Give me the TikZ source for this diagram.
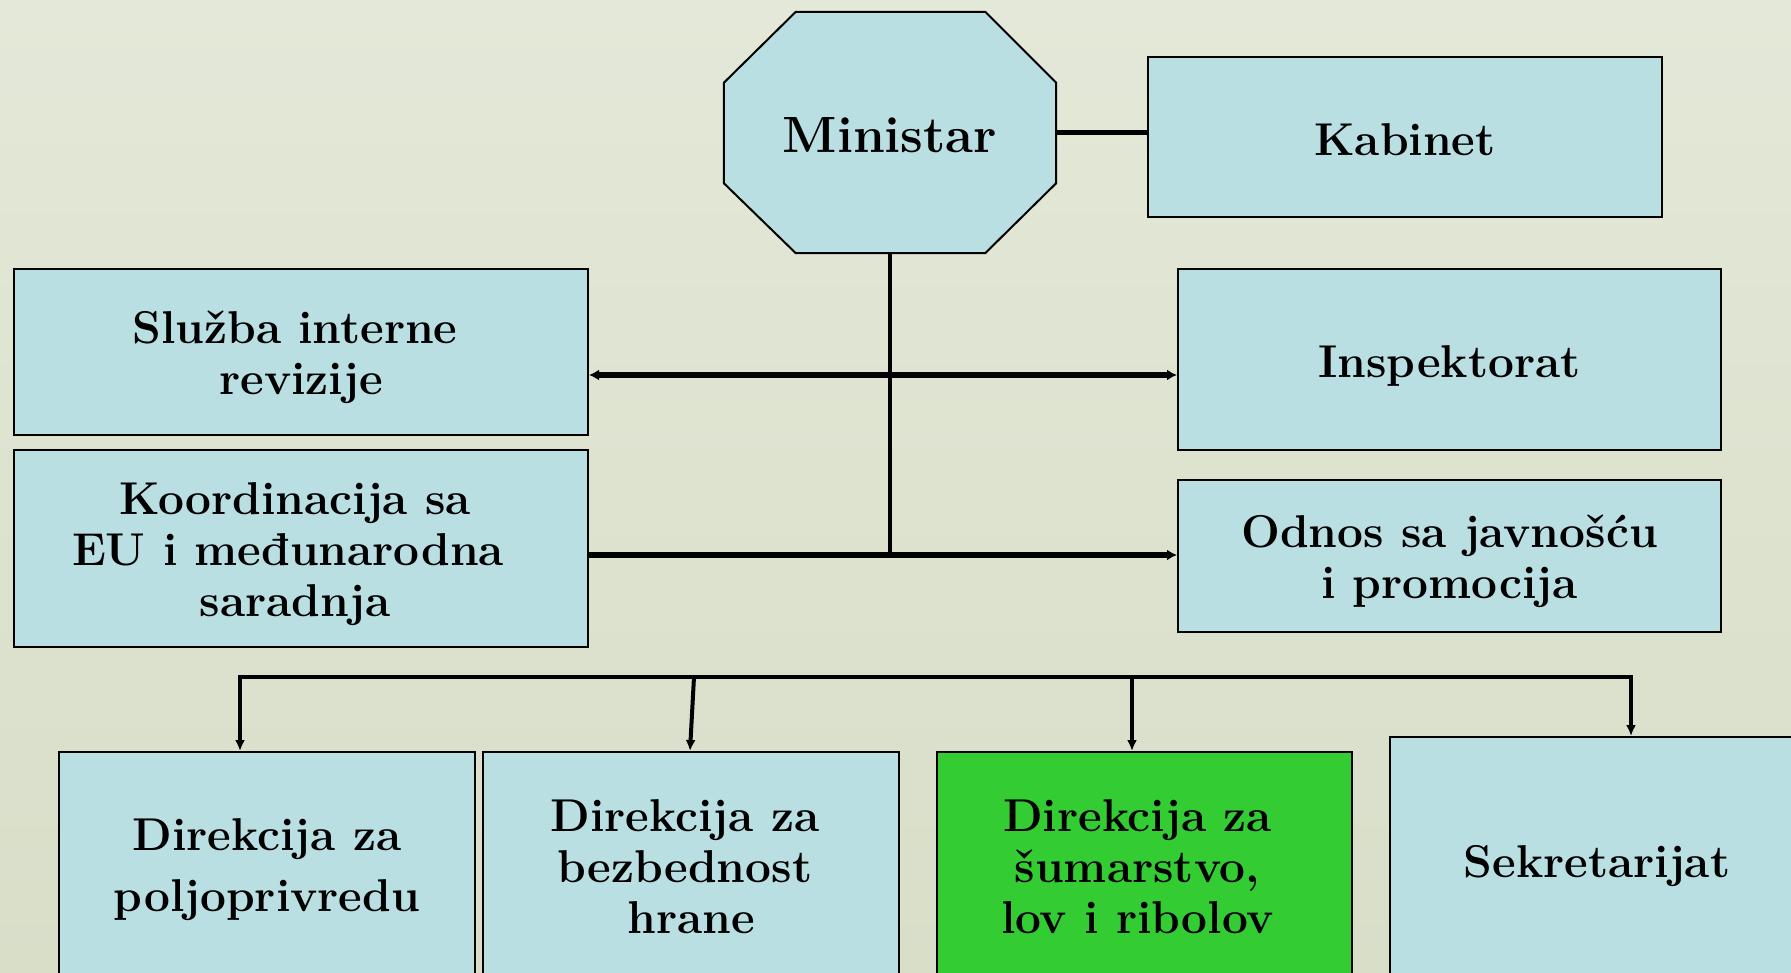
\documentclass[tikz,border=0pt]{standalone}
\usepackage{fontspec}
\usetikzlibrary{arrows.meta,calc,backgrounds}
\pgfdeclarelayer{back}
\pgfsetlayers{back,background,main}
\definecolor{boxblue}{RGB}{185,223,227}
\definecolor{boxgreen}{RGB}{51,204,51}
\definecolor{bgtop}{RGB}{228,232,216}
\definecolor{bgmid}{RGB}{208,216,188}
\definecolor{bgbot}{RGB}{216,222,200}
\newcommand\boxfont{\fontsize{46}{51}\selectfont\bfseries}
\newcommand\minfont{\fontsize{51}{58}\selectfont\bfseries}
\newcommand\sd[1]{\rule{0pt}{#1pt}}
\newcommand\tr[1]{\hbox to #1pt{}}
\tikzset{
  orgbox/.style={draw=black, line width=2pt, fill=boxblue, align=center, inner sep=0pt, font=\boxfont},
  conn/.style={line width=4.5pt},
  trunkline/.style={line width=3.5pt},
  dropline/.style={line width=4pt, -{Latex[length=11pt,width=10pt]}},
  thickarrow/.style={line width=5.5pt},
  octo/.style={draw=black, line width=2pt, fill=boxblue, line join=miter},
}
\begin{document}
\begin{tikzpicture}[x=1pt,y=-1pt]
\useasboundingbox (0,0) rectangle (1791,973);
\clip (0,0) rectangle (1791,973);
\begin{pgfonlayer}{back}
\shade[top color=bgtop, middle color=bgmid, bottom color=bgbot] (0,0) rectangle (1791,973);
\end{pgfonlayer}

% nodes
\node[inner sep=0pt, minimum width=332pt, minimum height=241pt, font=\minfont] (Min) at (890,132.5) {\sd{40}Ministar};
\begin{pgfonlayer}{background}
\draw[octo] ($(Min.north west)+(72,0)$) -- ($(Min.north east)+(-71,0)$) -- ($(Min.north east)+(0,71)$)
  -- ($(Min.south east)+(0,-70)$) -- ($(Min.south east)+(-71,0)$) -- ($(Min.south west)+(72,0)$)
  -- ($(Min.south west)+(0,-70)$) -- ($(Min.north west)+(0,71)$) -- cycle;
\end{pgfonlayer}
\node[orgbox, minimum width=514pt, minimum height=160pt] (Kab) at (1405,137) {\sd{36.5}Kabinet};
\node[orgbox, minimum width=574pt, minimum height=166pt] (Sluz) at (301,352) {\sd{44}Služba interne\tr{12}\\revizije};
\node[orgbox, minimum width=543pt, minimum height=181pt] (Insp) at (1449.5,359.5) {\sd{44}Inspektorat};
\node[orgbox, minimum width=574pt, minimum height=197pt] (Koord) at (301,548.5) {\sd{44}Koordinacija sa\tr{12}\\EU i međunarodna\tr{26}\\saradnja\tr{12}};
\node[orgbox, minimum width=543pt, minimum height=152pt] (Odn) at (1449.5,556) {\sd{44}Odnos sa javnošću\\i promocija};
\node[orgbox, minimum width=416pt, minimum height=224pt] (D1) at (267,864) {\sd{44}Direkcija za\\[10pt]poljoprivredu};
\node[orgbox, minimum width=416pt, minimum height=224pt] (D2) at (691,864) {\sd{37}Direkcija za\tr{12}\\bezbednost\tr{12}\\hrane};
\node[orgbox, fill=boxgreen, minimum width=415pt, minimum height=224pt] (D3) at (1144.5,864) {\sd{37}Direkcija za\tr{14}\\šumarstvo,\tr{14}\\lov i ribolov\tr{14}};
\node[orgbox, minimum width=414pt, minimum height=246pt] (D4) at (1597,860) {\sd{44}Sekretarijat};

% connectors
\coordinate (j1) at (891,375);
\coordinate (j2) at (891,555);
\draw[conn] (Min.east) -- (Min.east -| Kab.west);
\draw[trunkline] (Min.south) -- (j2 -| Min.south);
\draw[thickarrow, {Latex[length=10pt,width=11pt]}-{Latex[length=10pt,width=11pt]}] (j1 -| Sluz.east) -- (j1 -| Insp.west);
\draw[thickarrow, -{Latex[length=10pt,width=11pt]}] (j2 -| Koord.east) -- (j2 -| Odn.west);

\coordinate (h1) at (240,677);
\coordinate (h2) at (694,677);
\coordinate (h3) at (1132,677);
\coordinate (h4) at (1631,677);
\draw[conn, line cap=rect] (h1) -- (h4);
\draw[dropline] (h1) -- (h1 |- D1.north);
\draw[dropline] (h2) -- ([xshift=-4pt]h2 |- D2.north);
\draw[dropline] (h3) -- (h3 |- D3.north);
\draw[dropline] (h4) -- (h4 |- D4.north);
\end{tikzpicture}
\end{document}
